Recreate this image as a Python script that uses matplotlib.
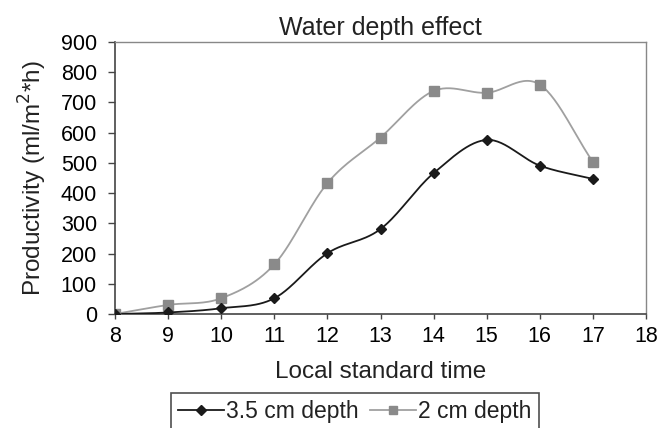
import numpy as np
import matplotlib
matplotlib.use("Agg")
import matplotlib.pyplot as plt
from matplotlib.lines import Line2D

plt.rcParams['font.family'] = ['Liberation Sans', 'DejaVu Sans']

hours = [8, 9, 10, 11, 12, 13, 14, 15, 16, 17]
depth_35 = [0, 5, 19, 52, 201, 281, 466, 576, 491, 447]
depth_2 = [0, 30, 52, 164, 433, 584, 738, 732, 759, 503]
x_ticks = list(range(8, 19))
y_ticks = list(range(0, 901, 100))


def smooth(x, y, n=30):
    x = np.asarray(x, float)
    y = np.asarray(y, float)
    P = np.column_stack([x, y])
    P = np.vstack([P[0] - (P[1] - P[0]), P, P[-1] + (P[-1] - P[-2])])
    out = []
    for i in range(1, len(P) - 2):
        p0, p1, p2, p3 = P[i - 1], P[i], P[i + 1], P[i + 2]
        t = np.linspace(0, 1, n)[:, None]
        seg = 0.5 * ((2 * p1) + (-p0 + p2) * t + (2 * p0 - 5 * p1 + 4 * p2 - p3) * t ** 2
                     + (-p0 + 3 * p1 - 3 * p2 + p3) * t ** 3)
        out.append(seg)
    S = np.vstack(out)
    return S[:, 0], S[:, 1]


fig = plt.figure(figsize=(6.59, 4.28), dpi=100)
ax = fig.add_axes([115 / 659, 1 - 314 / 428, (646 - 115) / 659, (314 - 42) / 428])

black = '#1a1a1a'
gray_line = '#a0a0a0'
gray_mark = '#8a8a8a'

sx, sy = smooth(hours, depth_35)
ax.plot(sx, sy, color=black, lw=1.3, zorder=3)
ax.plot(hours, depth_35, ls='none', marker='D', ms=5.5, color=black, zorder=4)

sx2, sy2 = smooth(hours, depth_2)
ax.plot(sx2, sy2, color=gray_line, lw=1.3, zorder=2)
ax.plot(hours, depth_2, ls='none', marker='s', ms=6.5, color=gray_mark, zorder=3)

ax.set_xlim(8, 18)
ax.set_ylim(0, 900)
ax.set_xticks(x_ticks)
ax.set_yticks(y_ticks)
ax.tick_params(axis='both', labelsize=15.5, direction='out', width=1, color='#444444')
ax.tick_params(axis='x', length=3.5, pad=5)
ax.tick_params(axis='y', length=5, pad=8)

for s in ['top', 'right']:
    ax.spines[s].set_color('#888888')
    ax.spines[s].set_linewidth(1)
for s in ['left', 'bottom']:
    ax.spines[s].set_color('#444444')
    ax.spines[s].set_linewidth(1.2)

ax.text(0.5, (314 - 28) / 272, 'Water depth effect', transform=ax.transAxes,
        ha='center', va='center', fontsize=18, color='#222222')
ax.set_xlabel('Local standard time', fontsize=17.5, color='#222222', va='center')
ax.xaxis.set_label_coords(0.5, (314 - 372) / 272)
ax.set_ylabel('Productivity (ml/m$^2$*h)', fontsize=17.5, color='#222222', va='center')
ax.yaxis.set_label_coords((33 - 115) / 531, 0.5)

handles = [Line2D([], [], color=black, lw=1.3, marker='D', ms=5),
           Line2D([], [], color=gray_line, lw=1.3, marker='s', ms=5.5, markerfacecolor=gray_mark,
                  markeredgecolor=gray_mark)]
leg = fig.legend(handles, ['3.5 cm depth', '2 cm depth'], loc='upper center',
                 bbox_to_anchor=(355 / 659, 1 - 393 / 428), ncol=2, fontsize=16.5,
                 frameon=True, fancybox=False, handlelength=2.0, handletextpad=0.1,
                 columnspacing=0.5, borderpad=0.3, borderaxespad=0)
leg.get_frame().set_edgecolor('#222222')
leg.get_frame().set_linewidth(1.2)
for t in leg.get_texts():
    t.set_color('#222222')

fig.savefig('out.png', dpi=100)
